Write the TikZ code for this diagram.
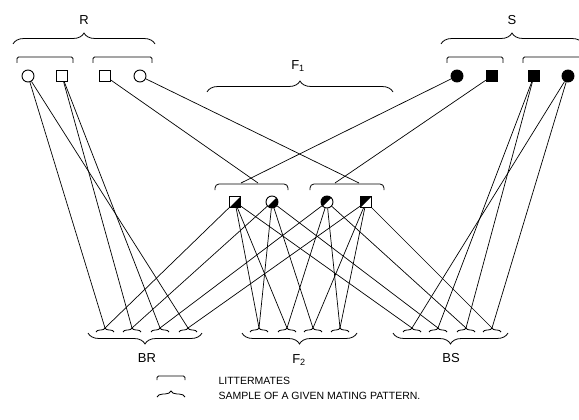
\documentclass[tikz,border=0pt]{standalone}
\usepackage{fontspec}
\setmainfont{Liberation Sans}
\usetikzlibrary{decorations.pathreplacing}
\begin{document}
\begin{tikzpicture}[x=1pt,y=-1pt,
  ln/.style={line width=0.7pt},
  opencirc/.style={circle,draw,line width=0.9pt,minimum size=12pt,inner sep=0pt},
  opensq/.style={rectangle,draw,line width=0.9pt,minimum size=11pt,inner sep=0pt},
  fullcirc/.style={opencirc,fill=black},
  fullsq/.style={opensq,fill=black},
  lrhalf/.style={path picture={\fill (path picture bounding box.south west) -- (path picture bounding box.south east) -- (path picture bounding box.north east) -- cycle;}},
  ulhalf/.style={path picture={\fill (path picture bounding box.south west) -- (path picture bounding box.north west) -- (path picture bounding box.north east) -- cycle;}},
  lbl/.style={font=\fontsize{13}{13}\selectfont},
  leg/.style={font=\fontsize{10.5}{10.5}\selectfont,anchor=west},
  bigbrace/.style={line width=0.8pt,decorate,decoration={brace,amplitude=11pt}},
  smallbrace/.style={line width=0.8pt,decorate,decoration={brace,amplitude=4pt}},
  lit/.style={line width=0.8pt,rounded corners=1.5pt},
  litter/.style={line width=0.8pt,rounded corners=4pt}
]
\useasboundingbox (0,0) rectangle (579,420);
\clip (0,0) rectangle (579,420);

% top generation
\node[opencirc] (rc1) at (28,76) {};
\node[opensq] (rs1) at (62,76) {};
\node[opensq] (rs2) at (105,76) {};
\node[opencirc] (rc2) at (140,76) {};
\node[fullcirc] (sc1) at (457,76) {};
\node[fullsq] (ss1) at (492,76) {};
\node[fullsq] (ss2) at (534,76) {};
\node[fullcirc] (sc2) at (568,76) {};

% littermate brackets top
\draw[lit] (17,63) -- (17,57) -- (73,57) -- (73,63);
\draw[lit] (93,63) -- (93,57) -- (152,57) -- (152,63);
\draw[lit] (447,63) -- (447,57) -- (503,57) -- (503,63);
\draw[lit] (523,63) -- (523,57) -- (590,57) -- (590,63);

% sample braces top
\draw[bigbrace] (13,44) -- (155,44);
\draw[bigbrace] (441,44) -- (583,44);
\node[lbl] (lR) at (84,20) {R};
\node[lbl] (lS) at (512,20) {S};
\draw[bigbrace] (207,92) -- (393,92);
\node[lbl] (lF1) at (298,66) {F\textsubscript{1}};

% F1 generation
\node[opensq,lrhalf] (m1) at (235,202) {};
\node[opencirc,lrhalf] (m2) at (272,202) {};
\node[opencirc,ulhalf] (m3) at (327,202) {};
\node[opensq,ulhalf] (m4) at (366,202) {};
\draw[litter] (215,190) -- (215,184) -- (288,184) -- (288,190);
\draw[litter] (310,190) -- (310,184) -- (384,184) -- (384,190);

\coordinate (x1a) at (258,183);
\coordinate (x1b) at (241,183);
\coordinate (x2a) at (359,183);
\coordinate (x2b) at (335,183);
\draw[ln] (rs2) -- (x1a);
\draw[ln] (sc1) -- (x1b);
\draw[ln] (rc2) -- (x2a);
\draw[ln] (ss1) -- (x2b);

% bottom litters
\foreach \n/\x in {br1/105,br2/132,br3/160,br4/188,f1/259,f2/287,f3/313,f4/340,bs1/412,bs2/438,bs3/466,bs4/492}{
  \coordinate (\n) at (\x,328);
  \draw[smallbrace] (\x-9,332) -- (\x+9,332);
}

% backcross R
\draw[ln] (rc1) -- (br1);
\draw[ln] (rc1) -- (br4);
\draw[ln] (rs1) -- (br2);
\draw[ln] (rs1) -- (br3);
% backcross S
\draw[ln] (sc2) -- (bs1);
\draw[ln] (sc2) -- (bs4);
\draw[ln] (ss2) -- (bs2);
\draw[ln] (ss2) -- (bs3);
% F1 to backcrosses
\draw[ln] (m1) -- (br1);
\draw[ln] (m2) -- (br2);
\draw[ln] (m3) -- (br3);
\draw[ln] (m4) -- (br4);
\draw[ln] (m1) -- (bs1);
\draw[ln] (m2) -- (bs2);
\draw[ln] (m3) -- (bs3);
\draw[ln] (m4) -- (bs4);
% F2
\draw[ln] (m1) -- (f1);
\draw[ln] (m2) -- (f1);
\draw[ln] (m1) -- (f2);
\draw[ln] (m3) -- (f2);
\draw[ln] (m2) -- (f3);
\draw[ln] (m4) -- (f3);
\draw[ln] (m3) -- (f4);
\draw[ln] (m4) -- (f4);

% bottom sample braces
\draw[bigbrace] (202,333) -- (88,333);
\draw[bigbrace] (357,333) -- (242,333);
\draw[bigbrace] (508,333) -- (393,333);
\node[lbl] (lBR) at (147,358) {BR};
\node[lbl] (lF2) at (299,360) {F\textsubscript{2}};
\node[lbl] (lBS) at (451,358) {BS};

% legend
\draw[lit] (157,380) -- (157,376) -- (185,376) -- (185,380);
\node[leg] (t1) at (215,381) {LITTERMATES};
\draw[line width=0.8pt,decorate,decoration={brace,amplitude=6pt}] (157,397) -- (185,397);
\node[leg] (t2) at (215,396) {SAMPLE OF A GIVEN MATING PATTERN.};
\end{tikzpicture}
\end{document}
